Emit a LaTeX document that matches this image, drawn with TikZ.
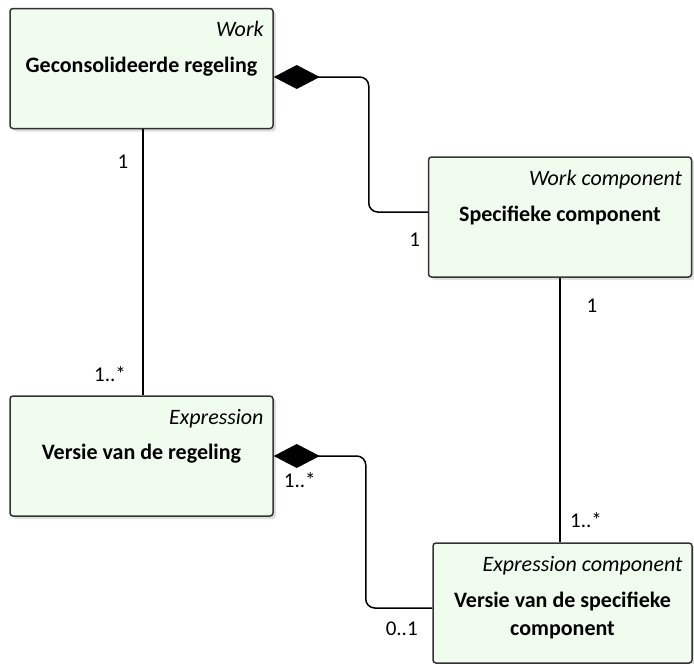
\documentclass[tikz,border=0pt]{standalone}
\usepackage{fontspec}
\setmainfont{Carlito}
\usetikzlibrary{arrows.meta,positioning,shadows}

\definecolor{klassegroen}{RGB}{239,252,238}
\definecolor{lijngrijs}{RGB}{51,51,51}

\begin{document}
\begin{tikzpicture}[x=1pt,y=1pt,
    klasse/.style={draw=lijngrijs,line width=1.5pt,fill=klassegroen,rounded corners=3pt,
      minimum height=120pt,inner sep=0pt,
      drop shadow={opacity=.25,shadow xshift=3pt,shadow yshift=-3pt}},
    stereo/.style={font=\fontsize{22}{26}\selectfont\itshape,inner sep=0pt,anchor=base east},
    naam/.style={font=\fontsize{22}{28}\selectfont\bfseries,inner sep=0pt,anchor=base,align=center},
    mult/.style={font=\fontsize{21}{24}\selectfont,inner sep=0pt},
    verbinding/.style={draw=black,line width=1.5pt,rounded corners=9pt},
    compositie/.style={verbinding,{Diamond[length=46pt,width=24pt,sharp]}-}]
  \useasboundingbox (0,0) rectangle (694,-664);

  % klassen
  \node[klasse,minimum width=263pt] (werk)      at (141.5,-68.5) {};
  \node[klasse,minimum width=263pt] (werkcomp)  at (560,-217)    {};
  \node[klasse,minimum width=263pt] (expressie) at (141.5,-456)  {};
  \node[klasse,minimum width=259pt] (exprcomp)  at (562.5,-603)  {};

  % teksten in de klassen
  \node[stereo] (werk-st) at ([xshift=-10pt,yshift=-29pt]werk.north east) {Work};
  \node[naam] (werk-nm) at ([yshift=-65pt]werk.north) {Geconsolideerde regeling};
  \node[stereo] (werkcomp-st) at ([xshift=-10pt,yshift=-29pt]werkcomp.north east) {Work component};
  \node[naam] (werkcomp-nm) at ([yshift=-65pt]werkcomp.north) {Specifieke component};
  \node[stereo] (expressie-st) at ([xshift=-10pt,yshift=-29pt]expressie.north east) {Expression};
  \node[naam] (expressie-nm) at ([yshift=-64pt]expressie.north) {Versie van de regeling};
  \node[stereo] (exprcomp-st) at ([xshift=-10pt,yshift=-29pt]exprcomp.north east) {Expression component};
  % base ligt op de laatste regel
  \node[naam] (exprcomp-nm) at ([yshift=-93pt]exprcomp.north) {Versie van de specifieke\\component};

  % relaties
  \path[compositie] ([yshift=-8.5pt]werk.east) -- ++(95pt,0) |- ([yshift=5pt]werkcomp.west);
  \path[verbinding] ([xshift=1.5pt]werk.south) -- ([xshift=1.5pt]expressie.north);
  \path[verbinding] (werkcomp.south) -- (werkcomp.south |- exprcomp.north);
  \path[compositie] (expressie.east) -- ++(92pt,0) |- ([yshift=-5pt]exprcomp.west);

  % multipliciteiten
  \node[mult] (m-werk)       at ([xshift=-18.5pt,yshift=-32pt]werk.south) {1};
  \node[mult] (m-expressie)  at ([xshift=-31.5pt,yshift=21pt]expressie.north) {1..*};
  \node[mult] (m-werkcomp1)  at ([xshift=-13pt,yshift=-23pt]werkcomp.west) {1};
  \node[mult] (m-werkcomp2)  at ([xshift=32pt,yshift=-28pt]werkcomp.south) {1};
  \node[mult] (m-exprcomp1)  at ([xshift=23.5pt,yshift=22pt]exprcomp.north) {1..*};
  \node[mult] (m-expressie2) at ([xshift=26pt,yshift=-24pt]expressie.east) {1..*};
  \node[mult] (m-exprcomp2)  at ([xshift=-30.5pt,yshift=-26pt]exprcomp.west) {0..1};
\end{tikzpicture}
\end{document}
